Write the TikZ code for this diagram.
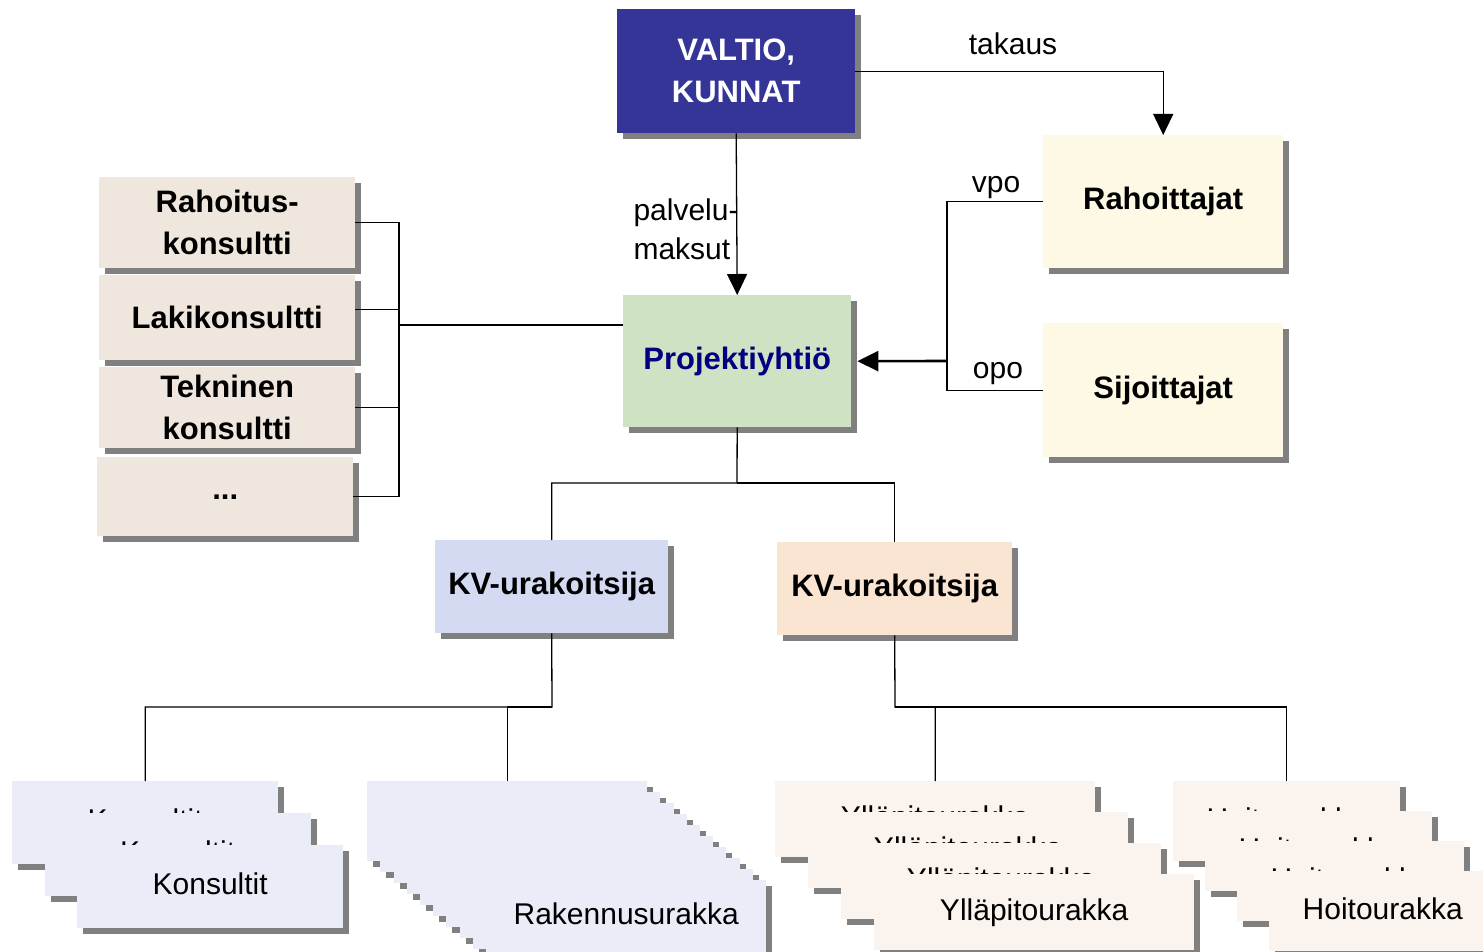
\documentclass[tikz,border=0pt]{standalone}
\usepackage{fontspec}
\setmainfont{Liberation Sans}
\usetikzlibrary{shadows,arrows.meta}
\definecolor{shgray}{RGB}{128,128,128}
\definecolor{valtioblue}{RGB}{53,53,152}
\definecolor{cream}{RGB}{253,249,229}
\definecolor{projgreen}{RGB}{207,226,196}
\definecolor{projtext}{RGB}{0,0,128}
\definecolor{beige}{RGB}{239,230,221}
\definecolor{kvblue}{RGB}{213,218,243}
\definecolor{kvpeach}{RGB}{250,229,211}
\definecolor{paleblue}{RGB}{234,236,248}
\definecolor{palepeach}{RGB}{251,243,238}
\tikzset{
	box/.style 2 args={rectangle,anchor=north west,inner sep=0pt,minimum width=#1,minimum height=#2,align=center,
		drop shadow={shadow xshift=6pt,shadow yshift=-6pt,fill=shgray,opacity=1}},
	boldtext/.style={font=\fontsize{31}{42}\selectfont\bfseries},
	plaintext/.style={font=\fontsize{30}{39}\selectfont},
	stacked/.style={plaintext,text depth=6pt},
	conn/.style={line width=1.3pt},
	thickconn/.style={line width=2.6pt},
	bigtip/.style={-{Triangle[width=20pt,length=21pt]}}
}
\begin{document}
\begin{tikzpicture}[x=1pt,y=-1pt]
	\useasboundingbox (0,0) rectangle (1483,952);

	\node [box={238pt}{124pt},fill=valtioblue,text=white,boldtext] (valtio) at (617,9) {VALTIO,\\KUNNAT};
	\node [box={240pt}{133pt},fill=cream,boldtext] (rahoit) at (1043,135) {Rahoittajat};
	\node [box={240pt}{134pt},fill=cream,boldtext] (sijoit) at (1043,323) {Sijoittajat};
	\node [box={228pt}{132pt},fill=projgreen,text=projtext,boldtext] (proj) at (623,295) {Projektiyhtiö};

	\node [box={256pt}{91pt},fill=beige,boldtext] (rahkons) at (99,177) {Rahoitus-\\konsultti};
	\node [box={256pt}{85pt},fill=beige,boldtext] (lakikons) at (99,275) {Lakikonsultti};
	\node [box={256pt}{81pt},fill=beige,boldtext] (tekkons) at (99,367) {Tekninen\\konsultti};
	\node [box={256pt}{79pt},fill=beige,boldtext] (muut) at (97,457) {...};

	\node [box={233pt}{93pt},fill=kvblue,boldtext] (kvleft) at (435,540) {KV-urakoitsija};
	\node [box={235pt}{93pt},fill=kvpeach,boldtext] (kvright) at (777,542) {KV-urakoitsija};

	\foreach \i in {1,...,3}
		\node [box={266pt}{83pt},fill=paleblue,stacked] (kons\i) at ({12+32.5*(\i-1)},{781+32*(\i-1)}) {Konsultit};
	\foreach \i in {1,...,9}
		\node [box={280pt}{80pt},fill=paleblue] (rak\i) at ({367+13.2*(\i-1)},{781+11*(\i-1)}) {};
	\node [box={280pt}{80pt},fill=paleblue,plaintext,text depth=14pt] (rak10) at (486,880) {Rakennusurakka};
	\foreach \i in {1,...,4}
		\node [box={320pt}{76pt},fill=palepeach,stacked] (yll\i) at ({775+33*(\i-1)},{781+31*(\i-1)}) {Ylläpitourakka};
	\foreach \i in {1,...,4}
		\node [box={227pt}{80pt},fill=palepeach,stacked] (hoit\i) at ({1173+32*(\i-1)},{781+30*(\i-1)}) {Hoitourakka};

	\node [plaintext] (takaus) at (1013,44) {takaus};
	\node [plaintext,anchor=west,align=left] (palvelu) at (630,229) {palvelu-\\maksut};
	\node [plaintext] (vpo) at (996,188) {vpo};
	\node [plaintext] (opo) at (998,374) {opo};

	\coordinate (split) at (947,361);
	\coordinate (bracket) at (399,325);
	\coordinate (fork) at (737,483);
	\coordinate (forkL) at (552,707);
	\coordinate (forkR) at (895,707);

	\draw [conn,bigtip] (valtio.east) -| (rahoit.north);
	\draw [conn,bigtip] (valtio.south) -- (proj.north);
	\draw [conn] (rahoit.west) -| (split);
	\draw [conn] (sijoit.west) -| (split);
	\draw [thickconn,bigtip] (split) -- ([xshift=6pt]proj.east);

	\draw [conn] (rahkons.east) -| (bracket);
	\draw [conn] ([yshift=8pt]lakikons.east) -| (bracket);
	\draw [conn] (tekkons.east) -| (bracket);
	\draw [conn] (muut.east) -| (bracket);
	\draw [thickconn] (bracket) -- (bracket -| proj.west);

	\draw [conn] (proj.south) -- (fork) -| (kvleft.north);
	\draw [conn] (fork) -| (kvright.north);
	\draw [conn] (kvleft.south) -- (forkL) -| (kons1.north);
	\draw [conn] (forkL) -| (rak1.north);
	\draw [conn] (kvright.south) -- (forkR) -| (yll1.north);
	\draw [conn] (forkR) -| (hoit1.north);
\end{tikzpicture}
\end{document}
